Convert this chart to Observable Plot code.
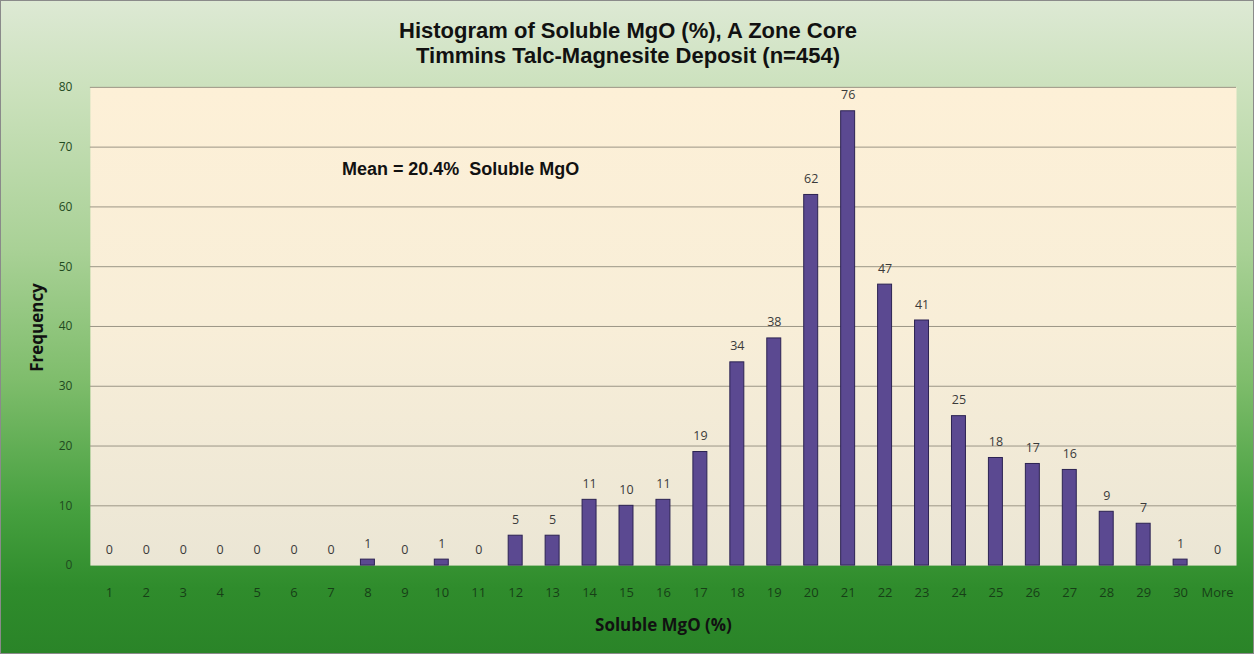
<!DOCTYPE html>
<html>
<head>
<meta charset="utf-8">
<script src="https://cdn.jsdelivr.net/npm/d3@7"></script>
<script src="https://cdn.jsdelivr.net/npm/@observablehq/plot@0.6"></script>
<style>
  html, body { margin: 0; padding: 0; }
  #chart {
    position: relative;
    width: 1254px;
    height: 654px;
    box-sizing: border-box;
    border: 1px solid #8a8a8a;
    background: linear-gradient(to bottom, #dde9d4 0%, #cbe1bc 14%, #a9d196 38%, #7fbd6c 58%, #46a03f 78%, #2f8c2c 90%, #2a8428 100%);
    overflow: hidden;
  }
  .title {
    position: absolute;
    left: 0; width: 1254px;
    text-align: center;
    font-family: "Liberation Sans Narrow", "Liberation Sans", Arial, sans-serif;
    font-weight: bold;
    font-size: 22px;
    color: #111;
  }
  #chart svg { position: absolute; left: -1px; top: -1px; }
</style>
</head>
<body>
<div id="chart">
  <div class="title" style="top:17px">Histogram of Soluble MgO (%), A Zone Core</div>
  <div class="title" style="top:42px">Timmins Talc-Magnesite Deposit (n=454)</div>
</div>
<script>
// Histogram bins (Soluble MgO, %) and their counts
const bins = ["1","2","3","4","5","6","7","8","9","10","11","12","13","14","15","16","17","18","19","20","21","22","23","24","25","26","27","28","29","30","More"];
const counts = [0,0,0,0,0,0,0,1,0,1,0,5,5,11,10,11,19,34,38,62,76,47,41,25,18,17,16,9,7,1,0];
const yTicks = [0,10,20,30,40,50,60,70,80];
const meanNote = ["Mean = 20.4%  Soluble MgO"];

const data = bins.map((b, i) => ({bin: b, count: counts[i]}));

const sansFont = "'Open Sans', 'DejaVu Sans', sans-serif";

const plot = Plot.plot({
  width: 1254,
  height: 654,
  marginTop: 87,
  marginBottom: 88,
  marginLeft: 90,
  marginRight: 16,
  style: {background: "transparent", overflow: "visible"},
  x: {domain: bins, paddingInner: 0.61, paddingOuter: 0.305, label: null},
  y: {domain: [0, 80], ticks: yTicks, label: null},
  marks: [
    Plot.frame({fill: "url(#plotBg)", stroke: "none"}),
    Plot.gridY(yTicks.filter(t => t > 0), {stroke: "#9c9686", strokeOpacity: 1, strokeWidth: 1}),
    Plot.barY(data, {x: "bin", y: "count", fill: "#5b4991", stroke: "#2c2352", strokeWidth: 1}),
    Plot.text(data, {x: "bin", y: "count", text: d => String(d.count), dy: -16,
      fontSize: 12.5, fill: "#3a3a3a", fontFamily: sansFont}),
    Plot.axisX({tickSize: 0, tickPadding: 22, fontSize: 13, color: "#173f17",
      fontFamily: "'Liberation Sans Narrow', 'Open Sans', sans-serif", label: null}),
    Plot.axisY({ticks: yTicks, tickSize: 0, tickPadding: 18, fontSize: 12, color: "#1f4a1f",
      fontFamily: sansFont, label: null}),
    Plot.text(meanNote, {frameAnchor: "top-left", dx: 252, dy: 75, textAnchor: "start",
      fontSize: 18, fontWeight: "bold", fill: "#111", fontFamily: "'Liberation Sans', Arial, sans-serif"}),
    Plot.text(["Frequency"], {frameAnchor: "left", textAnchor: "middle", dx: -53, dy: 1, rotate: -90,
      fontSize: 17, fontWeight: "bold", fill: "#111", fontFamily: sansFont}),
    Plot.text(["Soluble MgO (%)"], {frameAnchor: "bottom", dx: 0, dy: 66,
      fontSize: 17, fontWeight: "bold", fill: "#111", fontFamily: sansFont})
  ]
});

// Gradient used to fill the plotting area
const ns = "http://www.w3.org/2000/svg";
const defs = document.createElementNS(ns, "defs");
defs.innerHTML = `<linearGradient id="plotBg" x1="0" y1="0" x2="0" y2="1">
  <stop offset="0" stop-color="#fdf0d7"/>
  <stop offset="0.5" stop-color="#f8eed8"/>
  <stop offset="1" stop-color="#ebe6d5"/>
</linearGradient>`;
plot.insertBefore(defs, plot.firstChild);

document.getElementById("chart").appendChild(plot);
</script>
</body>
</html>
